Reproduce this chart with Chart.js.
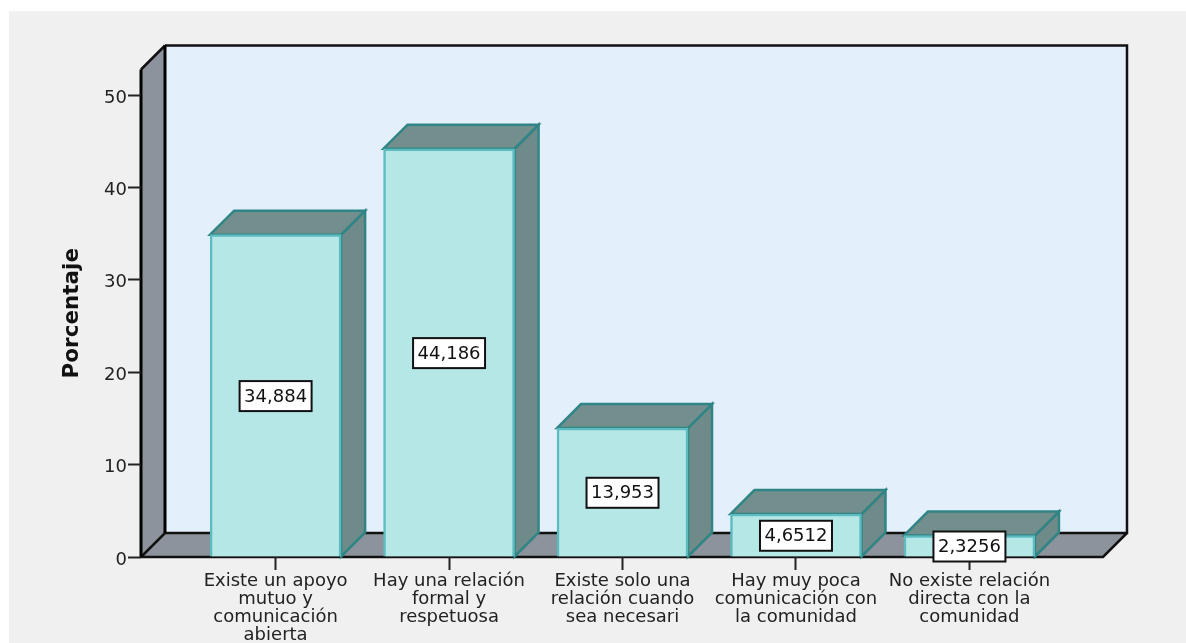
<!DOCTYPE html>
<html><head><meta charset="utf-8">
<style>html,body{margin:0;padding:0;background:#fff;overflow:hidden}canvas{display:block}</style>
<script src="https://cdn.jsdelivr.net/npm/chart.js@4"></script>
</head><body><canvas id="c" width="1186" height="643" style="width:1186px;height:643px"></canvas>
<script>
const categories = [
  ["Existe un apoyo","mutuo y","comunicación","abierta"],
  ["Hay una relación","formal y","respetuosa"],
  ["Existe solo una","relación cuando","sea necesari"],
  ["Hay muy poca","comunicación con","la comunidad"],
  ["No existe relación","directa con la","comunidad"]
];
const values = [34.884, 44.186, 13.953, 4.6512, 2.3256];
const axisTitle = "Porcentaje";
const DEPTH = 24;
const FONT = '"DejaVu Sans"';

const poly = (ctx, pts, fill, stroke, lw) => {
  ctx.beginPath();
  pts.forEach((p,i)=> i?ctx.lineTo(p[0],p[1]):ctx.moveTo(p[0],p[1]));
  ctx.closePath();
  if(fill){ctx.fillStyle=fill;ctx.fill();}
  if(stroke){ctx.strokeStyle=stroke;ctx.lineWidth=lw;ctx.lineJoin='miter';ctx.stroke();}
};
const scene = {
  id:'scene',
  beforeDraw(chart){
    const {ctx,chartArea:a} = chart;
    const d = DEPTH;
    ctx.save();
    ctx.fillStyle='#f0f0f0';
    ctx.fillRect(9,11,1177,632);
    poly(ctx,[[a.left+d,a.top-d],[a.right+d,a.top-d],[a.right+d,a.bottom-d],[a.left+d,a.bottom-d]],'#e3effb');
    poly(ctx,[[a.left,a.top],[a.left+d,a.top-d],[a.left+d,a.bottom-d],[a.left,a.bottom]],'#8c939c');
    poly(ctx,[[a.left,a.bottom],[a.left+d,a.bottom-d],[a.right+d,a.bottom-d],[a.right,a.bottom]],'#8c939c');
    ctx.strokeStyle='#111';
    ctx.lineWidth=2.5;
    ctx.beginPath();
    ctx.moveTo(a.left+d,a.top-d);ctx.lineTo(a.right+d,a.top-d);ctx.lineTo(a.right+d,a.bottom-d);
    ctx.lineTo(a.left+d,a.bottom-d);ctx.lineTo(a.left,a.bottom);
    ctx.moveTo(a.right+d,a.bottom-d);ctx.lineTo(a.right,a.bottom);ctx.lineTo(a.left,a.bottom);
    ctx.moveTo(a.left,a.top);ctx.lineTo(a.left+d,a.top-d);
    ctx.stroke();
    ctx.lineWidth=3;
    ctx.strokeStyle='#000';
    ctx.beginPath();
    ctx.moveTo(a.left,a.top);ctx.lineTo(a.left,a.bottom);
    ctx.moveTo(a.left+d,a.top-d);ctx.lineTo(a.left+d,a.bottom-d);
    ctx.stroke();
    ctx.restore();
  },
  beforeDatasetsDraw(chart){
    const {ctx} = chart;
    const d = DEPTH;
    ctx.save();
    chart.getDatasetMeta(0).data.forEach(b=>{
      const l=b.x-b.width/2, r=b.x+b.width/2, t=b.y, bt=b.base;
      poly(ctx,[[r,bt],[r+d,bt-d],[r+d,t-d],[r,t]],'#6f8b89','#2f8585',2.5);
      poly(ctx,[[l,t],[l+d,t-d],[r+d,t-d],[r,t]],'#738f8d','#2f8585',2.5);
    });
    ctx.restore();
  },
  afterDatasetsDraw(chart){
    const {ctx} = chart;
    ctx.save();
    ctx.font='18px '+FONT;
    ctx.textAlign='center';ctx.textBaseline='middle';
    chart.getDatasetMeta(0).data.forEach((b,i)=>{
      const txt=String(values[i]).replace('.',',');
      const w=ctx.measureText(txt).width+9, h=30;
      const cy=(b.y+b.base)/2+0.5;
      ctx.fillStyle='#fff';ctx.strokeStyle='#111';ctx.lineWidth=2;
      ctx.fillRect(b.x-w/2,cy-h/2,w,h);ctx.strokeRect(b.x-w/2,cy-h/2,w,h);
      ctx.fillStyle='#111';ctx.fillText(txt,b.x,cy+1);
    });
    ctx.restore();
  }
};
new Chart(document.getElementById('c'),{
  type:'bar',
  data:{datasets:[{
    data:values.map((v,i)=>({x:i,y:v})),
    backgroundColor:'#b5e7e7',borderColor:'#5cbcc0',borderWidth:2.5,barThickness:131
  }]},
  options:{
    responsive:false,animation:false,devicePixelRatio:1,
    layout:{padding:{top:69.5,right:83,left:0,bottom:0}},
    plugins:{legend:{display:false},tooltip:{enabled:false}},
    scales:{
      x:{type:'linear',min:-0.776,max:4.77,offset:false,
        afterFit(s){s.height=86;},
        grid:{offset:false,drawOnChartArea:false,drawTicks:true,tickLength:13,tickWidth:2,tickColor:'#222'},
        border:{display:false},
        ticks:{stepSize:1,includeBounds:false,autoSkip:false,maxRotation:0,minRotation:0,padding:2,color:'#222',
          font:{family:FONT,size:18,lineHeight:1.0},
          callback:v=>categories[v]}
      },
      y:{min:0,max:52.76,
        afterFit(s){s.width=141;},
        grid:{drawOnChartArea:false,drawTicks:true,tickLength:13,tickWidth:2,tickColor:'#222'},
        border:{display:false},
        ticks:{stepSize:10,includeBounds:false,padding:1,color:'#222',
          font:{family:FONT,size:18,lineHeight:'6px'},
          callback:v=>['',String(v)]},
        title:{display:true,text:axisTitle,color:'#111',padding:{top:60,bottom:0},
          font:{family:FONT,size:21.5,weight:'bold'}}
      }
    }
  },
  plugins:[scene]
});
</script></body></html>
